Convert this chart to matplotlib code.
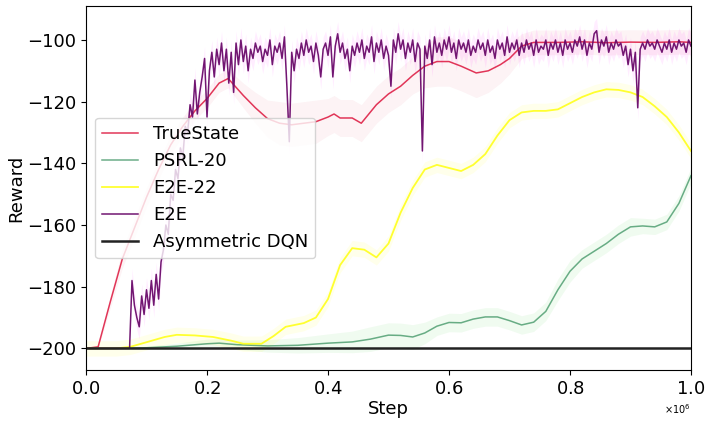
import matplotlib
matplotlib.use("Agg")
import matplotlib.pyplot as plt
from matplotlib.ticker import ScalarFormatter
import numpy as np

# ---- data (steps in units of 1e6) ----
true_x = [0.0, 0.02, 0.04, 0.06, 0.08, 0.10, 0.12, 0.14, 0.16, 0.18, 0.20, 0.22,
          0.235, 0.26, 0.28, 0.30, 0.32, 0.34, 0.36, 0.38, 0.40, 0.41, 0.42, 0.44,
          0.455, 0.48, 0.50, 0.52, 0.54, 0.56, 0.58, 0.60, 0.62, 0.645, 0.665,
          0.685, 0.70, 0.72, 0.74, 0.78, 0.82, 0.86, 0.90, 0.94, 0.98, 1.0]
true_y = [-200, -199.5, -185, -171, -161, -151, -142, -134, -128, -123, -119, -114,
          -112.5, -118, -122, -125.5, -127, -127.5, -127, -126.5, -125, -124, -125.3, -125.3,
          -127, -121, -117.5, -115, -111.5, -108.5, -107, -107, -108.5, -110.7, -110,
          -108, -106, -102, -100.8, -100.8, -100.6, -100.9, -100.7, -100.8, -100.6, -100.8]
true_sd = [0, 0.5, 2, 3, 3, 3, 3, 3, 3, 3, 3, 3,
           3, 4, 5, 6, 7, 7, 7, 7, 6, 6, 6, 6,
           6, 6, 6, 6, 6, 7, 8, 8, 8, 8, 7,
           6, 5, 4, 4, 4, 4, 4, 4, 4, 4, 4]

psrl_x = [0.0, 0.05, 0.10, 0.15, 0.20, 0.22, 0.25, 0.30, 0.35, 0.40, 0.44, 0.47, 0.50,
          0.52, 0.54, 0.56, 0.58, 0.60, 0.62, 0.64, 0.66, 0.68, 0.70, 0.72, 0.74, 0.76,
          0.78, 0.80, 0.82, 0.84, 0.86, 0.88, 0.90, 0.92, 0.94, 0.96, 0.98, 1.0]
psrl_y = [-200, -200, -199.8, -199.3, -198.5, -198.3, -198.8, -199.2, -199, -198.3, -197.9, -197, -195.7,
          -195.8, -196.3, -195, -192.8, -191.6, -191.7, -190.5, -189.8, -189.8, -191, -192.4, -191.5, -188,
          -181, -175, -171, -168.5, -166, -163, -160.6, -160.3, -160.6, -159, -153, -144]
psrl_sd = [0, 0, 0.5, 1, 1.5, 1.5, 1.5, 2, 2.5, 3, 3.5, 4, 4,
           4, 4, 3.5, 3, 3, 3, 3, 3, 3, 3, 3, 3, 3,
           3.5, 3.5, 3, 3, 3, 3, 3, 2.5, 2.5, 2.5, 2.5, 2.5]

e2e22_x = [0.0, 0.05, 0.073, 0.10, 0.13, 0.15, 0.18, 0.21, 0.24, 0.26, 0.29, 0.31, 0.33,
           0.36, 0.38, 0.40, 0.42, 0.44, 0.46, 0.48, 0.50, 0.52, 0.54, 0.56, 0.58, 0.60,
           0.62, 0.64, 0.66, 0.68, 0.70, 0.72, 0.74, 0.76, 0.78, 0.80, 0.82, 0.84, 0.86,
           0.88, 0.90, 0.92, 0.94, 0.96, 0.98, 1.0]
e2e22_y = [-200, -200, -199.5, -198, -196.3, -195.6, -195.8, -196.3, -197.5, -198.5, -198.5, -196, -193,
           -191.8, -190, -184, -173, -167.5, -168, -170.5, -166, -156, -148, -142, -140.5, -141.5,
           -142.5, -140.5, -137, -131, -126, -123.5, -123, -123, -122.5, -120.5, -118.5, -117, -116,
           -116.2, -117, -118.5, -121.5, -125, -130, -136]
e2e22_sd = 2.5

e2e_x = [i * 0.004 for i in range(251)]
e2e_y = [-200] * 19 + [
    -178, -186, -190, -193, -183, -189, -181, -187, -178, -186, -176, -184, -172, -168, -160, -163,
    -150, -152, -142, -145, -135, -138, -128, -130, -121, -125, -113, -124, -117, -112, -106, -125,
    -110, -104, -112, -103, -108, -101, -110, -103, -114, -104, -117, -101, -108, -100, -107, -102,
    -110, -103, -106, -101, -104, -102, -107, -103, -105, -100, -108, -102, -104, -101, -106, -99,
    -115, -133, -104, -110, -103, -106, -101, -105, -100, -104, -102, -107, -101, -105, -112, -103,
    -101, -105, -99, -112, -102, -98, -104, -101, -106, -103, -110, -102, -105, -101, -104, -100,
    -106, -102, -104, -99, -107, -101, -104, -100, -106, -102, -105, -115, -100, -104, -98, -103,
    -100, -106, -101, -104, -100, -107, -101, -103, -136, -102, -106, -100, -108, -99, -104, -101,
    -105, -100, -103, -99, -104, -101, -106, -100, -103, -101, -104, -100, -105, -102, -104, -100,
    -103, -101, -105, -100, -104, -102, -106, -100, -103, -101, -105, -99, -104, -101, -103, -100,
    -105, -101, -104, -100, -103, -101, -105, -100, -104, -102, -103, -100, -105, -101, -103, -100,
    -104, -101, -105, -100, -103, -101, -104, -100, -102, -99, -103, -100, -105, -101, -103, -98,
    -97, -104, -100, -102, -99, -104, -101, -103, -100, -102, -101, -105, -102, -108, -103, -110,
    -104, -122, -103, -101, -103, -100, -102, -101, -103, -100, -102, -104, -101, -103, -100, -104,
    -101, -103, -100, -102, -101, -104, -100, -102]
e2e_sd = [0] * 19 + [4] * 232

dqn_x = [0.0, 1.0]
dqn_y = [-200, -200]

# ---- plot ----
fig = plt.figure(figsize=(7.12, 4.24), dpi=100)
ax = fig.add_axes([0.1208, 0.1274, 0.8497, 0.8584])

def band(x, y, sd, color, alpha):
    x = np.array(x) * 1e6
    y = np.array(y, dtype=float)
    sd = np.broadcast_to(np.array(sd, dtype=float), y.shape)
    ax.fill_between(x, y - sd, y + sd, color=color, alpha=alpha, lw=0)

band(true_x, true_y, true_sd, 'crimson', 0.05)
band(psrl_x, psrl_y, psrl_sd, 'limegreen', 0.07)
band(e2e22_x, e2e22_y, e2e22_sd, 'yellow', 0.08)
band(e2e_x, e2e_y, e2e_sd, 'magenta', 0.07)

ax.plot(np.array(true_x) * 1e6, true_y, color='crimson', lw=1.1, alpha=0.85, label='TrueState')
ax.plot(np.array(psrl_x) * 1e6, psrl_y, color='seagreen', lw=1.1, alpha=0.7, label='PSRL-20')
ax.plot(np.array(e2e22_x) * 1e6, e2e22_y, color='yellow', lw=1.3, alpha=0.8, label='E2E-22')
ax.plot(np.array(e2e_x) * 1e6, e2e_y, color='#6a0a6a', lw=1.1, alpha=0.95, label='E2E')
ax.plot(np.array(dqn_x) * 1e6, dqn_y, color='#222222', lw=1.8, label='Asymmetric DQN')

ax.set_xlim(0, 1e6)
ax.set_ylim(-207, -89)
ax.set_yticks([-200, -180, -160, -140, -120, -100])
fmt = ScalarFormatter(useMathText=True)
fmt.set_powerlimits((0, 0))
ax.xaxis.set_major_formatter(fmt)
ax.xaxis.get_offset_text().set_fontsize(7)
ax.tick_params(labelsize=13)
ax.set_xlabel('Step', fontsize=13, labelpad=2)
ax.set_ylabel('Reward', fontsize=13, labelpad=1)
ax.legend(loc='center left', fontsize=13)

fig.savefig('out.png', dpi=100)
